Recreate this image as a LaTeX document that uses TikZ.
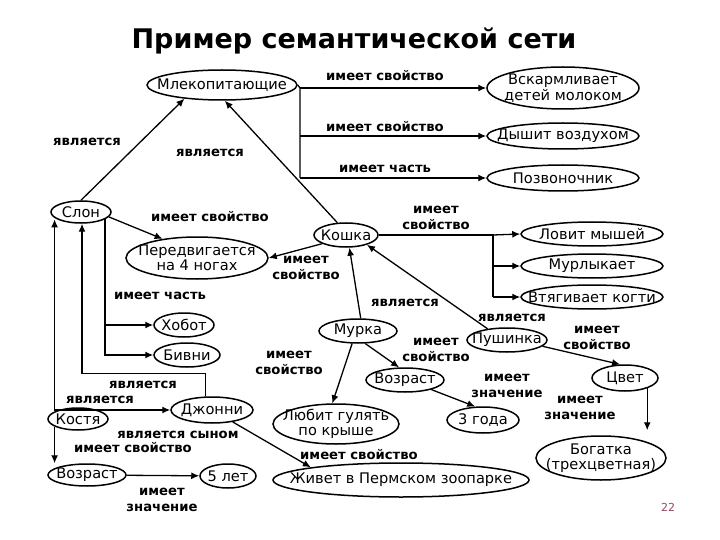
\documentclass[tikz,border=0pt]{standalone}
\usepackage{fontspec}
\usetikzlibrary{shapes.geometric,arrows.meta}
\newfontfamily\dvs{DejaVu Sans}
\definecolor{pnum}{RGB}{150,70,100}
\tikzset{
  ent/.style={ellipse, draw, line width=1.5pt, inner sep=0pt},
  nt/.style={inner sep=0pt, align=center, font=\dvs\fontsize{14.6}{15.5}\selectfont},
  lbl/.style={inner sep=0.5pt, align=center, font=\dvs\bfseries\fontsize{13.2}{15.5}\selectfont},
  arr/.style={-{Latex[length=8pt,width=7pt]}, line width=1.3pt},
  ln/.style={line width=1.3pt}
}
\begin{document}
\begin{tikzpicture}[x=1pt,y=-1pt]
\useasboundingbox (0,0) rectangle (720,540);
\node[font=\dvs\bfseries\fontsize{27}{30}\selectfont] (title) at (354,41) {Пример семантической сети};
\node[text=pnum, font=\dvs\fontsize{11}{12}\selectfont] (pg) at (668,507) {22};

% nodes
\node[ent, minimum width=150, minimum height=30, label={[nt]center:Млекопитающие}] (mamm) at (222,85) {};
\node[ent, minimum width=152, minimum height=42, label={[nt]center:{Вскармливает\\детей молоком}}] (vosk) at (563,88) {};
\node[ent, minimum width=152, minimum height=26, label={[nt]center:Дышит воздухом}] (dysh) at (563,136) {};
\node[ent, minimum width=152, minimum height=26, label={[nt]center:Позвоночник}] (pozv) at (563,178) {};
\node[ent, minimum width=60, minimum height=22, label={[nt]center:Слон}] (slon) at (81,212) {};
\node[ent, minimum width=142, minimum height=42, label={[nt]center:{Передвигается\\на 4 ногах}}] (pered) at (197,258) {};
\node[ent, minimum width=64, minimum height=24, label={[nt]center:Кошка}] (koshka) at (346,235) {};
\node[ent, minimum width=142, minimum height=24, label={[nt]center:Ловит мышей}] (lovit) at (592,234) {};
\node[ent, minimum width=142, minimum height=24, label={[nt]center:Мурлыкает}] (murl) at (592,266) {};
\node[ent, minimum width=142, minimum height=24, label={[nt]center:Втягивает когти}] (vtyag) at (592,297) {};
\node[ent, minimum width=78, minimum height=24, label={[nt]center:Мурка}] (murka) at (358,331) {};
\node[ent, minimum width=80, minimum height=24, label={[nt]center:Пушинка}] (push) at (507,340) {};
\node[ent, minimum width=66, minimum height=26, label={[nt]center:Цвет}] (cvet) at (625,378) {};
\node[ent, minimum width=130, minimum height=44, label={[nt]center:{Богатка\\(трехцветная)}}] (bogatka) at (601,458) {};
\node[ent, minimum width=78, minimum height=24, label={[nt]center:Возраст}] (vozr1) at (405,380) {};
\node[ent, minimum width=72, minimum height=26, label={[nt]center:3 года}] (tri) at (483,420) {};
\node[ent, minimum width=126, minimum height=40, label={[nt]center:{Любит гулять\\по крыше}}] (lyubit) at (336,424) {};
\node[ent, minimum width=256, minimum height=34, label={[nt]center:Живет в Пермском зоопарке}] (zhivet) at (401,480) {};
\node[ent, minimum width=60, minimum height=24, label={[nt]center:Хобот}] (hobot) at (184,325) {};
\node[ent, minimum width=66, minimum height=24, label={[nt]center:Бивни}] (bivni) at (187,355) {};
\node[ent, minimum width=82, minimum height=26, label={[nt]center:Джонни}] (dzhonni) at (212,410) {};
\node[ent, minimum width=60, minimum height=22, label={[nt]center:Костя}] (kostya) at (78,419) {};
\node[ent, minimum width=78, minimum height=22, label={[nt]center:Возраст}] (vozr2) at (87,475) {};
\node[ent, minimum width=56, minimum height=24, label={[nt]center:5 лет}] (pyat) at (228,476) {};

% Млекопитающие properties
\coordinate (b1) at (300,88);
\coordinate (b3) at (300,178);
\draw[ln] (mamm.east) -- (b1) -- (b3);
\draw[arr] (b1) -- (vosk.west);
\draw[arr] (b1 |- dysh.west) -- (dysh.west);
\draw[arr] (b3) -- (pozv.west);
\node[lbl] (l1) at (385,76) {имеет свойство};
\node[lbl] (l2) at (385,127) {имеет свойство};
\node[lbl] (l3) at (385,169) {имеет часть};

% является -> Млекопитающие
\draw[arr] (slon.north) -- (mamm.200);
\node[lbl] (l4) at (87,142) {является};
\draw[arr] (koshka.125) -- (mamm.-80);
\node[lbl] (l5) at (210,153) {является};

% Слон -> Передвигается
\draw[arr] (slon.-10) -- (pered.151);
\node[lbl] (l6) at (210,217) {имеет свойство};
% Кошка -> Передвигается
\draw[arr] (koshka.200) -- (pered.east);
\node[lbl] (l7) at (306,268) {имеет\\свойство};

% Кошка properties
\coordinate (k1) at (493,235);
\coordinate (k3) at (493,297);
\draw[ln] (koshka.east) -- (k1) -- (k3);
\draw[arr] (k1) -- (lovit.west);
\draw[arr] (k1 |- murl.west) -- (murl.west);
\draw[arr] (k3) -- (vtyag.west);
\node[lbl] (l8) at (436,218) {имеет\\свойство};

% Мурка, Пушинка -> Кошка
\draw[arr] (murka.78) -- (koshka.-75);
\node[lbl] (l9) at (405,303) {является};
\draw[arr] (push.150) -- (koshka.-25);
\node[lbl] (l10) at (512,318) {является};

% Пушинка -> Цвет -> Богатка
\draw[arr] (push.-10) -- (cvet.110);
\node[lbl] (l11) at (597,338) {имеет\\свойство};
\path (cvet.-25) coordinate (ca);
\draw[arr, shorten >=5pt] (ca) -- (ca |- bogatka.north);
\node[lbl] (l12) at (580,408) {имеет\\значение};

% Мурка properties
\draw[arr] (murka.-60) -- (vozr1.115);
\node[lbl] (l13) at (436,350) {имеет\\свойство};
\draw[arr] (vozr1.-20) -- (tri.120);
\node[lbl] (l14) at (507,386) {имеет\\значение};
\draw[arr] (murka.-115) -- (lyubit.100);
\node[lbl] (l15) at (289,363) {имеет\\свойство};

% Джонни -> Живет
\draw[arr] (dzhonni.-30) -- (zhivet.172);
\node[lbl] (l16) at (359,455) {имеет свойство};

% Слон parts
\draw[arr] (slon.-17) |- (bivni.west);
\draw[arr] (slon.-17 |- hobot.west) -- (hobot.west);
\node[lbl] (l17) at (160,296) {имеет часть};

% Джонни -> Слон
\draw[arr] (dzhonni.115) -- ++(0,-23) -| (slon.-85);
\node[lbl] (l18) at (143,385) {является};

% Костя -> Слон, Джонни, Возраст
\draw[arr] (kostya.162) -- (kostya.162 |- slon.-163);
\node[lbl] (l19) at (100,400) {является};
\draw[arr] (kostya.162 |- dzhonni.west) -- (dzhonni.west);
\node[lbl] (l20) at (178,435) {является сыном};
\draw[arr] (kostya.-162) -- (kostya.-162 |- vozr2.north);
\node[lbl] (l21) at (133,448) {имеет свойство};
\draw[arr] (vozr2) -- (pyat);
\node[lbl] (l22) at (162,500) {имеет\\значение};
\end{tikzpicture}
\end{document}
